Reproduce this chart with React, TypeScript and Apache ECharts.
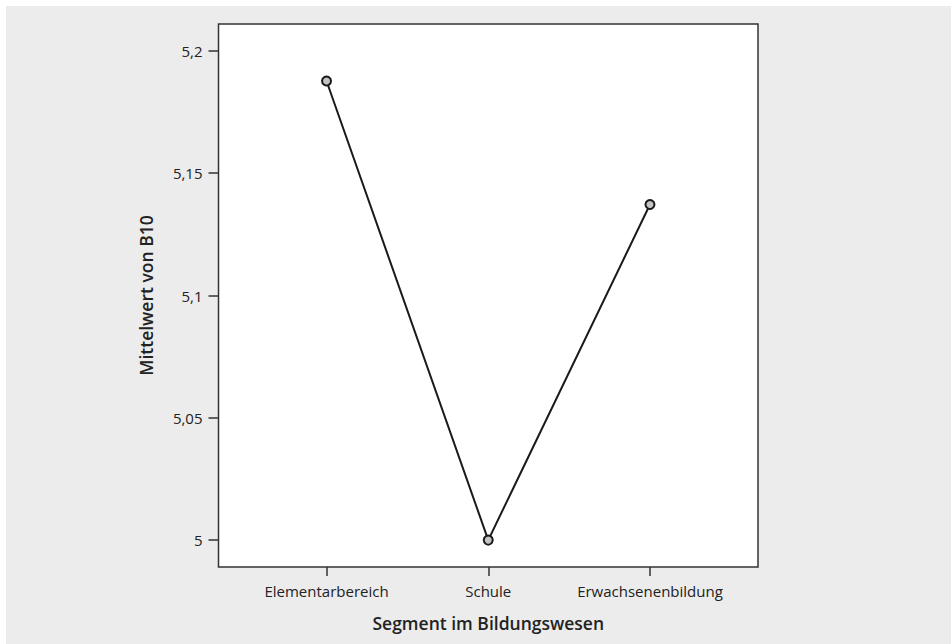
import React, { useEffect, useRef } from "react";
import * as echarts from "echarts";

const categories = ["Elementarbereich", "Schule", "Erwachsenenbildung"];
const meanValues = [5.1877, 5.0, 5.1372];
const yTicks = [5, 5.05, 5.1, 5.15, 5.2];
const xTitle = "Segment im Bildungswesen";
const yTitle = "Mittelwert von B10";

const FONT = "'Open Sans', 'Noto Sans', sans-serif";

export default function App() {
  const ref = useRef<HTMLDivElement>(null);
  useEffect(() => {
    document.body.style.margin = "0";
    const chart = echarts.init(ref.current!, null, { renderer: "svg" });
    const xIdx = categories.map((_, i) => i);
    chart.setOption({
      animation: false,
      backgroundColor: "#ffffff",
      graphic: [
        {
          type: "rect",
          z: -10,
          silent: true,
          shape: { x: 6, y: 6, width: 945, height: 638 },
          style: { fill: "#ececec" },
        },
      ],
      grid: {
        left: 218.5,
        right: 193,
        top: 24,
        bottom: 77,
        show: true,
        backgroundColor: "#ffffff",
        borderColor: "#333333",
        borderWidth: 1.5,
        z: 0,
      },
      xAxis: {
        type: "value",
        min: -0.668,
        max: 2.668,
        name: xTitle,
        nameLocation: "middle",
        nameGap: 47,
        nameTextStyle: { fontFamily: FONT, fontSize: 17.5, fontWeight: 600, color: "#222222" },
        axisLine: { show: false, onZero: false },
        splitLine: { show: false },
        axisTick: {
          show: true,
          customValues: xIdx,
          length: 9,
          lineStyle: { color: "#333333", width: 1.5 },
        },
        axisLabel: {
          show: true,
          customValues: xIdx,
          margin: 16,
          fontFamily: FONT,
          fontSize: 15,
          color: "#222222",
          formatter: (v: number) => categories[Math.round(v)] ?? "",
        },
      },
      yAxis: {
        type: "value",
        min: 4.989,
        max: 5.211,
        name: yTitle,
        nameLocation: "middle",
        nameGap: 64,
        nameTextStyle: { fontFamily: FONT, fontSize: 17.5, fontWeight: 600, color: "#222222" },
        axisLine: { show: false, onZero: false },
        splitLine: { show: false },
        axisTick: {
          show: true,
          customValues: yTicks,
          length: 10,
          lineStyle: { color: "#333333", width: 1.5 },
        },
        axisLabel: {
          show: true,
          customValues: yTicks,
          margin: 16,
          fontFamily: FONT,
          fontSize: 15,
          color: "#222222",
          formatter: (v: number) => String(Math.round(v * 100) / 100).replace(".", ","),
        },
      },
      series: [
        {
          type: "line",
          data: meanValues.map((v, i) => [i, v]),
          symbol: "circle",
          symbolSize: 9,
          lineStyle: { color: "#1a1a1a", width: 2 },
          itemStyle: { color: "#c4c4c4", borderColor: "#1a1a1a", borderWidth: 2 },
          z: 5,
        },
      ],
    });
    return () => chart.dispose();
  }, []);
  return <div ref={ref} style={{ width: 951, height: 644 }} />;
}
